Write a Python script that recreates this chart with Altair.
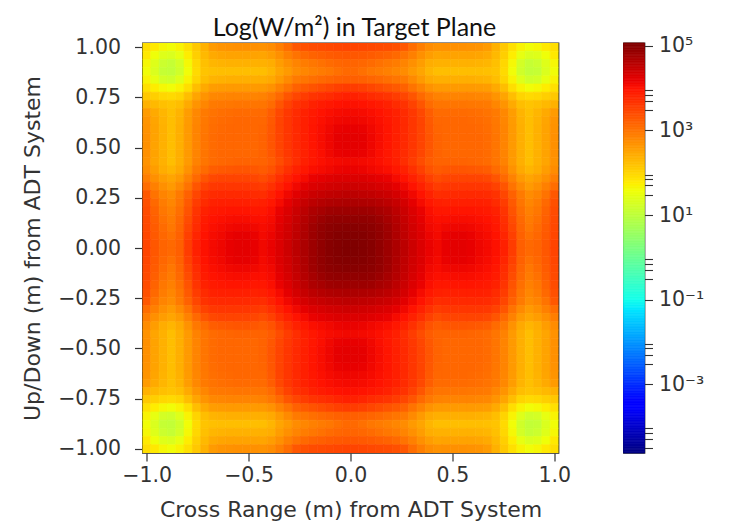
import altair as alt
import numpy as np
import pandas as pd

# log10(W/m^2) read from the upper-left quadrant, which is symmetric about its diagonal
lower = [
 [1.92],
 [1.80,1.58],
 [1.66,1.38,1.15],
 [1.60,1.33,1.08,1.05],
 [1.70,1.48,1.25,1.20,1.38],
 [1.90,1.76,1.65,1.60,1.70,1.92],
 [2.14,2.07,1.99,1.96,2.02,2.24,2.50],
 [2.38,2.30,2.22,2.18,2.25,2.45,2.68,2.82],
 [2.60,2.45,2.33,2.22,2.35,2.58,2.80,2.94,3.02],
 [2.68,2.50,2.36,2.24,2.38,2.60,2.82,2.96,3.06,3.10],
 [2.70,2.52,2.38,2.24,2.40,2.62,2.84,2.98,3.08,3.12,3.14],
 [2.72,2.52,2.38,2.24,2.40,2.62,2.84,3.00,3.10,3.14,3.14,3.14],
 [2.72,2.52,2.38,2.24,2.40,2.62,2.84,3.00,3.10,3.14,3.14,3.14,3.14],
 [2.72,2.52,2.38,2.24,2.40,2.62,2.84,3.00,3.10,3.14,3.14,3.14,3.14,3.14],
 [2.70,2.50,2.38,2.24,2.40,2.62,2.86,3.00,3.10,3.14,3.16,3.18,3.18,3.18,3.18],
 [2.76,2.58,2.42,2.34,2.46,2.70,2.96,3.10,3.24,3.28,3.30,3.32,3.32,3.30,3.26,3.36],
 [2.90,2.72,2.58,2.50,2.62,2.86,3.12,3.32,3.46,3.50,3.50,3.50,3.50,3.48,3.42,3.54,3.72],
 [3.08,2.88,2.72,2.62,2.78,3.02,3.32,3.52,3.62,3.64,3.64,3.64,3.64,3.62,3.58,3.70,3.86,4.00],
 [3.30,3.02,2.84,2.76,2.94,3.20,3.48,3.68,3.76,3.78,3.78,3.78,3.78,3.76,3.74,3.86,4.00,4.12,4.25],
 [3.38,3.12,2.92,2.82,3.00,3.28,3.58,3.76,3.86,3.88,3.88,3.88,3.88,3.86,3.88,3.96,4.08,4.22,4.36,4.48],
 [3.42,3.18,2.98,2.88,3.06,3.34,3.66,3.86,3.93,3.96,3.98,3.98,3.98,3.96,3.96,4.04,4.18,4.30,4.44,4.56,4.68],
 [3.44,3.22,3.04,2.93,3.12,3.42,3.72,3.92,4.00,4.03,4.05,4.06,4.06,4.04,4.03,4.08,4.22,4.34,4.48,4.62,4.74,4.84],
 [3.46,3.26,3.10,2.97,3.16,3.48,3.76,3.96,4.04,4.08,4.12,4.14,4.14,4.12,4.07,4.12,4.26,4.38,4.52,4.66,4.80,4.90,4.96],
 [3.48,3.28,3.14,3.05,3.20,3.54,3.82,4.00,4.07,4.12,4.18,4.21,4.21,4.18,4.10,4.16,4.30,4.40,4.54,4.68,4.82,4.92,4.99,5.03],
 [3.50,3.30,3.17,3.12,3.22,3.58,3.87,4.02,4.09,4.14,4.20,4.23,4.23,4.20,4.12,4.18,4.30,4.42,4.56,4.70,4.82,4.92,5.00,5.04,5.06],
]

x_ticks = [-1.0, -0.5, 0.0, 0.5, 1.0]
y_ticks = [-1.0, -0.75, -0.5, -0.25, 0.0, 0.25, 0.5, 0.75, 1.0]
cbar_major = [1e5, 1e3, 1e1, 1e-1, 1e-3]
cbar_minor = [9e3, 7e3, 5e3, 3e3, 9e1, 7e1, 5e1, 3e1, 9e-1, 7e-1, 5e-1, 3e-1,
              9e-3, 7e-3, 5e-3, 3e-3, 9e-5, 7e-5, 5e-5, 3e-5]
log_min, log_max = -4.63, 5.07
jet_pos = [0, .11, .125, .35, .375, .64, .66, .89, .91, 1]
jet_hex = ["#00007f", "#0000ff", "#0000ff", "#00e6ff", "#14ffeb", "#efff08",
           "#ffec00", "#ff1300", "#e80000", "#7f0000"]

FONT = "DejaVu Sans"
TXT = "#333333"
FS = 20.5
TS = 22

n = 50
half = 1 / (n - 1)
centers = np.linspace(-1, 1, n)
q = np.zeros((25, 25))
for r, row in enumerate(lower):
    for c, v in enumerate(row):
        q[r, c] = v
        q[c, r] = v
full = np.vstack([np.hstack([q, q[:, ::-1]]), np.hstack([q, q[:, ::-1]])[::-1]])
records = []
for r in range(n):
    for c in range(n):
        records.append(dict(x=centers[c] - half, x2=centers[c] + half,
                            y=centers[n - 1 - r] - half, y2=centers[n - 1 - r] + half,
                            v=float(full[r, c])))
df = pd.DataFrame(records)

color_scale = alt.Scale(domain=[log_min + (log_max - log_min) * p for p in jet_pos],
                        range=jet_hex, clamp=True, interpolate="rgb")
ext = [-1 - half, 1 + half]

heat = alt.Chart(df).mark_rect(strokeWidth=0.7, clip=True).encode(
    x=alt.X("x:Q", scale=alt.Scale(domain=ext, nice=False, zero=False),
            axis=alt.Axis(values=x_ticks, format=".1f", title="Cross Range (m) from ADT System",
                          grid=False, tickSize=8, tickWidth=1.2, tickColor=TXT, domain=False,
                          labelFont=FONT, labelFontSize=FS, labelColor=TXT, labelPadding=4,
                          labelFlush=False, titleFont=FONT, titleFontSize=TS, titleFontWeight="normal",
                          titleColor=TXT, titlePadding=14)),
    x2="x2:Q",
    y=alt.Y("y:Q", scale=alt.Scale(domain=ext, nice=False, zero=False),
            axis=alt.Axis(values=y_ticks, format=".2f", title="Up/Down (m) from ADT System",
                          grid=False, tickSize=8, tickWidth=1.2, tickColor=TXT, domain=False,
                          labelFont=FONT, labelFontSize=FS, labelColor=TXT, labelPadding=14,
                          titleFont=FONT, titleFontSize=TS, titleFontWeight="normal",
                          titleColor=TXT, titlePadding=13)),
    y2="y2:Q",
    color=alt.Color("v:Q", scale=color_scale, legend=None),
    stroke=alt.Stroke("v:Q", scale=color_scale, legend=None),
).properties(
    width=416, height=410,
    title=alt.TitleParams("Log(W/m²) in Target Plane", font="Lato", fontSize=25,
                          fontWeight="normal", color="#111111", anchor="middle", dx=4, offset=-4),
)

levels = np.linspace(log_min, log_max, 258)
cb = pd.DataFrame(dict(lo=10 ** levels[:-1], hi=10 ** levels[1:], v=(levels[:-1] + levels[1:]) / 2))
major_expr = ("datum.value==100000?'10⁵':datum.value==1000?'10³':datum.value==10?'10¹':"
              "datum.value==0.1?'10⁻¹':datum.value==0.001?'10⁻³':''")
cbar = alt.Chart(cb).mark_rect(strokeWidth=0.7).encode(
    x=alt.value(0), x2=alt.value(21),
    y=alt.Y("lo:Q", scale=alt.Scale(type="log", domain=[10 ** log_min, 10 ** log_max], nice=False),
            axis=alt.Axis(orient="right", values=cbar_major + cbar_minor, labelExpr=major_expr,
                          title=None, grid=False, tickSize=8, tickWidth=1.1, tickColor=TXT, domain=False,
                          labelFont=FONT, labelFontSize=FS, labelColor=TXT, labelPadding=6,
                          labelOverlap=False)),
    y2="hi:Q",
    color=alt.Color("v:Q", scale=color_scale, legend=None),
    stroke=alt.Stroke("v:Q", scale=color_scale, legend=None),
).properties(width=21, height=410)

chart = alt.hconcat(heat, cbar, spacing=51).configure_view(
    stroke="#222222", strokeWidth=1.3
).properties(padding={"left": 12.5, "top": 7, "right": 5, "bottom": 5})

chart.save("out.html", embed_options={"renderer": "svg", "actions": False})
